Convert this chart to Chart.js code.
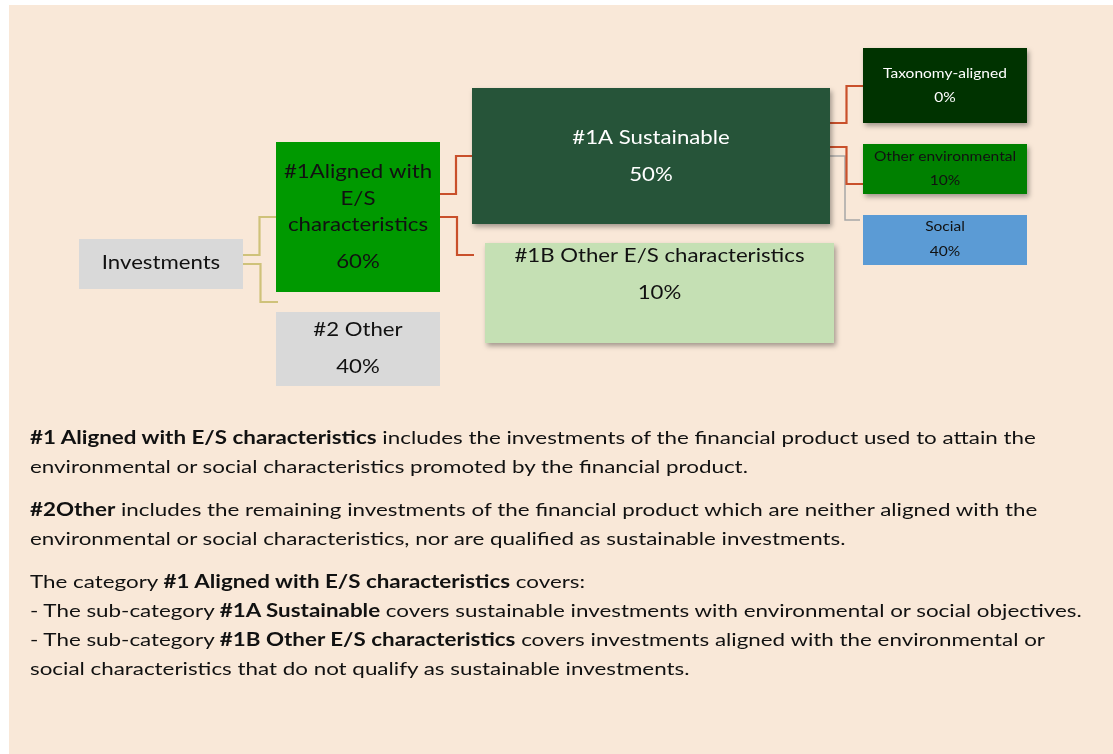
<!DOCTYPE html>
<html>
<head>
<meta charset="utf-8">
<script src="https://cdn.jsdelivr.net/npm/chart.js@4"></script>
<style>
  html, body { margin: 0; padding: 0; background: #ffffff; }
  #page { position: absolute; left: 9px; top: 5px; width: 1104px; height: 749px; background: #f9e8d8; }
  #wrap { position: absolute; left: 0; top: 0; width: 1113px; height: 754px; }
  #notes { position: absolute; left: 30px; top: 423px; font-family: Lato, "Noto Sans", sans-serif; font-size: 18px; color: #111; white-space: nowrap; transform: scaleX(1.243); transform-origin: 0 0; }
  #notes p { margin: 0 0 14px 0; line-height: 29px; }
</style>
</head>
<body>
<div id="page"></div>
<div id="wrap"><canvas id="tree" width="1113" height="754"></canvas></div>
<div id="notes">
  <p><b>#1 Aligned with E/S characteristics</b> includes the investments of the financial product used to attain the<br>environmental or social characteristics promoted by the financial product.</p>
  <p><b>#2Other</b> includes the remaining investments of the financial product which are neither aligned with the<br>environmental or social characteristics, nor are qualified as sustainable investments.</p>
  <p>The category <b>#1 Aligned with E/S characteristics</b> covers:<br>- The sub-category <b>#1A Sustainable</b> covers sustainable investments with environmental or social objectives.<br>- The sub-category <b>#1B Other E/S characteristics</b> covers investments aligned with the environmental or<br>social characteristics that do not qualify as sustainable investments.</p>
</div>
<script>
// tree data
var nodeNames = ['Investments', '#1Aligned with E/S characteristics', '#2 Other', '#1A Sustainable',
  '#1B Other E/S characteristics', 'Taxonomy-aligned', 'Other environmental', 'Social'];
var nodeShares = [null, 60, 40, 50, 10, 0, 10, 40];
var nodeParents = [-1, 0, 0, 1, 1, 3, 3, 3];

// layout (canvas units): box rect, name lines, line centres
var boxes = [
  { r: [79, 239, 243, 289], fill: '#d9d9d9', ink: '#111', size: 20, lines: ['Investments'], ys: [263] },
  { r: [276, 142, 440, 292], fill: '#009900', ink: '#111', size: 20, lines: ['#1Aligned with', 'E/S', 'characteristics'], ys: [172, 199, 225, 262] },
  { r: [276, 312, 440, 386], fill: '#d9d9d9', ink: '#111', size: 20, lines: ['#2 Other'], ys: [330, 367] },
  { r: [472, 88, 830, 224], fill: '#265439', ink: '#ffffff', size: 20, lines: ['#1A Sustainable'], ys: [138, 175], shadow: true },
  { r: [485, 243, 834, 343], fill: '#c5e0b4', ink: '#111', size: 20, lines: ['#1B Other E/S characteristics'], ys: [256, 293], shadow: true },
  { r: [863, 48, 1027, 123], fill: '#003300', ink: '#ffffff', size: 13.5, lines: ['Taxonomy-aligned'], ys: [74, 98], shadow: true },
  { r: [863, 144, 1027, 194], fill: '#008000', ink: '#111', size: 13.5, lines: ['Other environmental'], ys: [157, 181], shadow: true },
  { r: [863, 215, 1027, 265], fill: '#5b9bd5', ink: '#111', size: 13.5, lines: ['Social'], ys: [227, 252] }
];
// connector ends: [fromY on parent, toX, toY on child], colour
var links = [
  { child: 1, y0: 255, x1: 276, y1: 217, color: '#cfc27a' },
  { child: 2, y0: 264, x1: 278, y1: 302, color: '#cfc27a' },
  { child: 3, y0: 194, x1: 472, y1: 156, color: '#c9502b' },
  { child: 4, y0: 217, x1: 474, y1: 255, color: '#c9502b' },
  { child: 5, y0: 123, x1: 863, y1: 86, color: '#c9502b' },
  { child: 6, y0: 147, x1: 863, y1: 184, color: '#c9502b' },
  { child: 7, y0: 156, x1: 860, y1: 220, color: '#a6a6a6', width: 1.5 }
];

var linkSets = links.map(function(l) {
  var p = boxes[nodeParents[l.child]].r;
  return {
    data: [{ x: p[2], y: l.y0 }, { x: l.x1, y: l.y1 }],
    showLine: true,
    stepped: 'middle',
    borderColor: l.color,
    borderWidth: l.width || 2.2,
    pointRadius: 0,
    fill: false
  };
});

var boxPlugin = {
  id: 'boxes',
  afterDatasetsDraw: function(chart) {
    var ctx = chart.ctx, sx = chart.scales.x, sy = chart.scales.y;
    boxes.forEach(function(b, i) {
      var x0 = sx.getPixelForValue(b.r[0]), x1 = sx.getPixelForValue(b.r[2]);
      var y0 = sy.getPixelForValue(b.r[1]), y1 = sy.getPixelForValue(b.r[3]);
      ctx.save();
      if (b.shadow) {
        ctx.shadowColor = 'rgba(0,0,0,0.35)';
        ctx.shadowBlur = 5;
        ctx.shadowOffsetX = 2;
        ctx.shadowOffsetY = 3;
      }
      ctx.fillStyle = b.fill;
      ctx.fillRect(x0, y0, x1 - x0, y1 - y0);
      ctx.restore();

      // text is a little wider than Lato, so stretch it
      var stretch = b.size < 16 ? 1.15 : 1.11;
      var cx = (x0 + x1) / 2;
      var texts = b.lines.slice();
      if (nodeShares[i] !== null) texts.push(nodeShares[i] + '%');
      texts.forEach(function(t, k) {
        ctx.save();
        ctx.fillStyle = b.ink;
        ctx.font = b.size + 'px Lato, "Noto Sans", sans-serif';
        ctx.textAlign = 'center';
        ctx.textBaseline = 'middle';
        ctx.translate(cx, sy.getPixelForValue(b.ys[k]));
        ctx.scale(stretch, 1);
        ctx.fillText(t, 0, 0);
        ctx.restore();
      });
    });
  }
};

new Chart(document.getElementById('tree').getContext('2d'), {
  type: 'scatter',
  data: { datasets: linkSets },
  options: {
    responsive: false,
    animation: false,
    layout: { padding: 0 },
    plugins: { legend: { display: false }, tooltip: { enabled: false } },
    scales: {
      x: { type: 'linear', min: 0, max: 1113, display: false },
      y: { type: 'linear', min: 0, max: 754, reverse: true, display: false }
    }
  },
  plugins: [boxPlugin]
});
</script>
</body>
</html>
